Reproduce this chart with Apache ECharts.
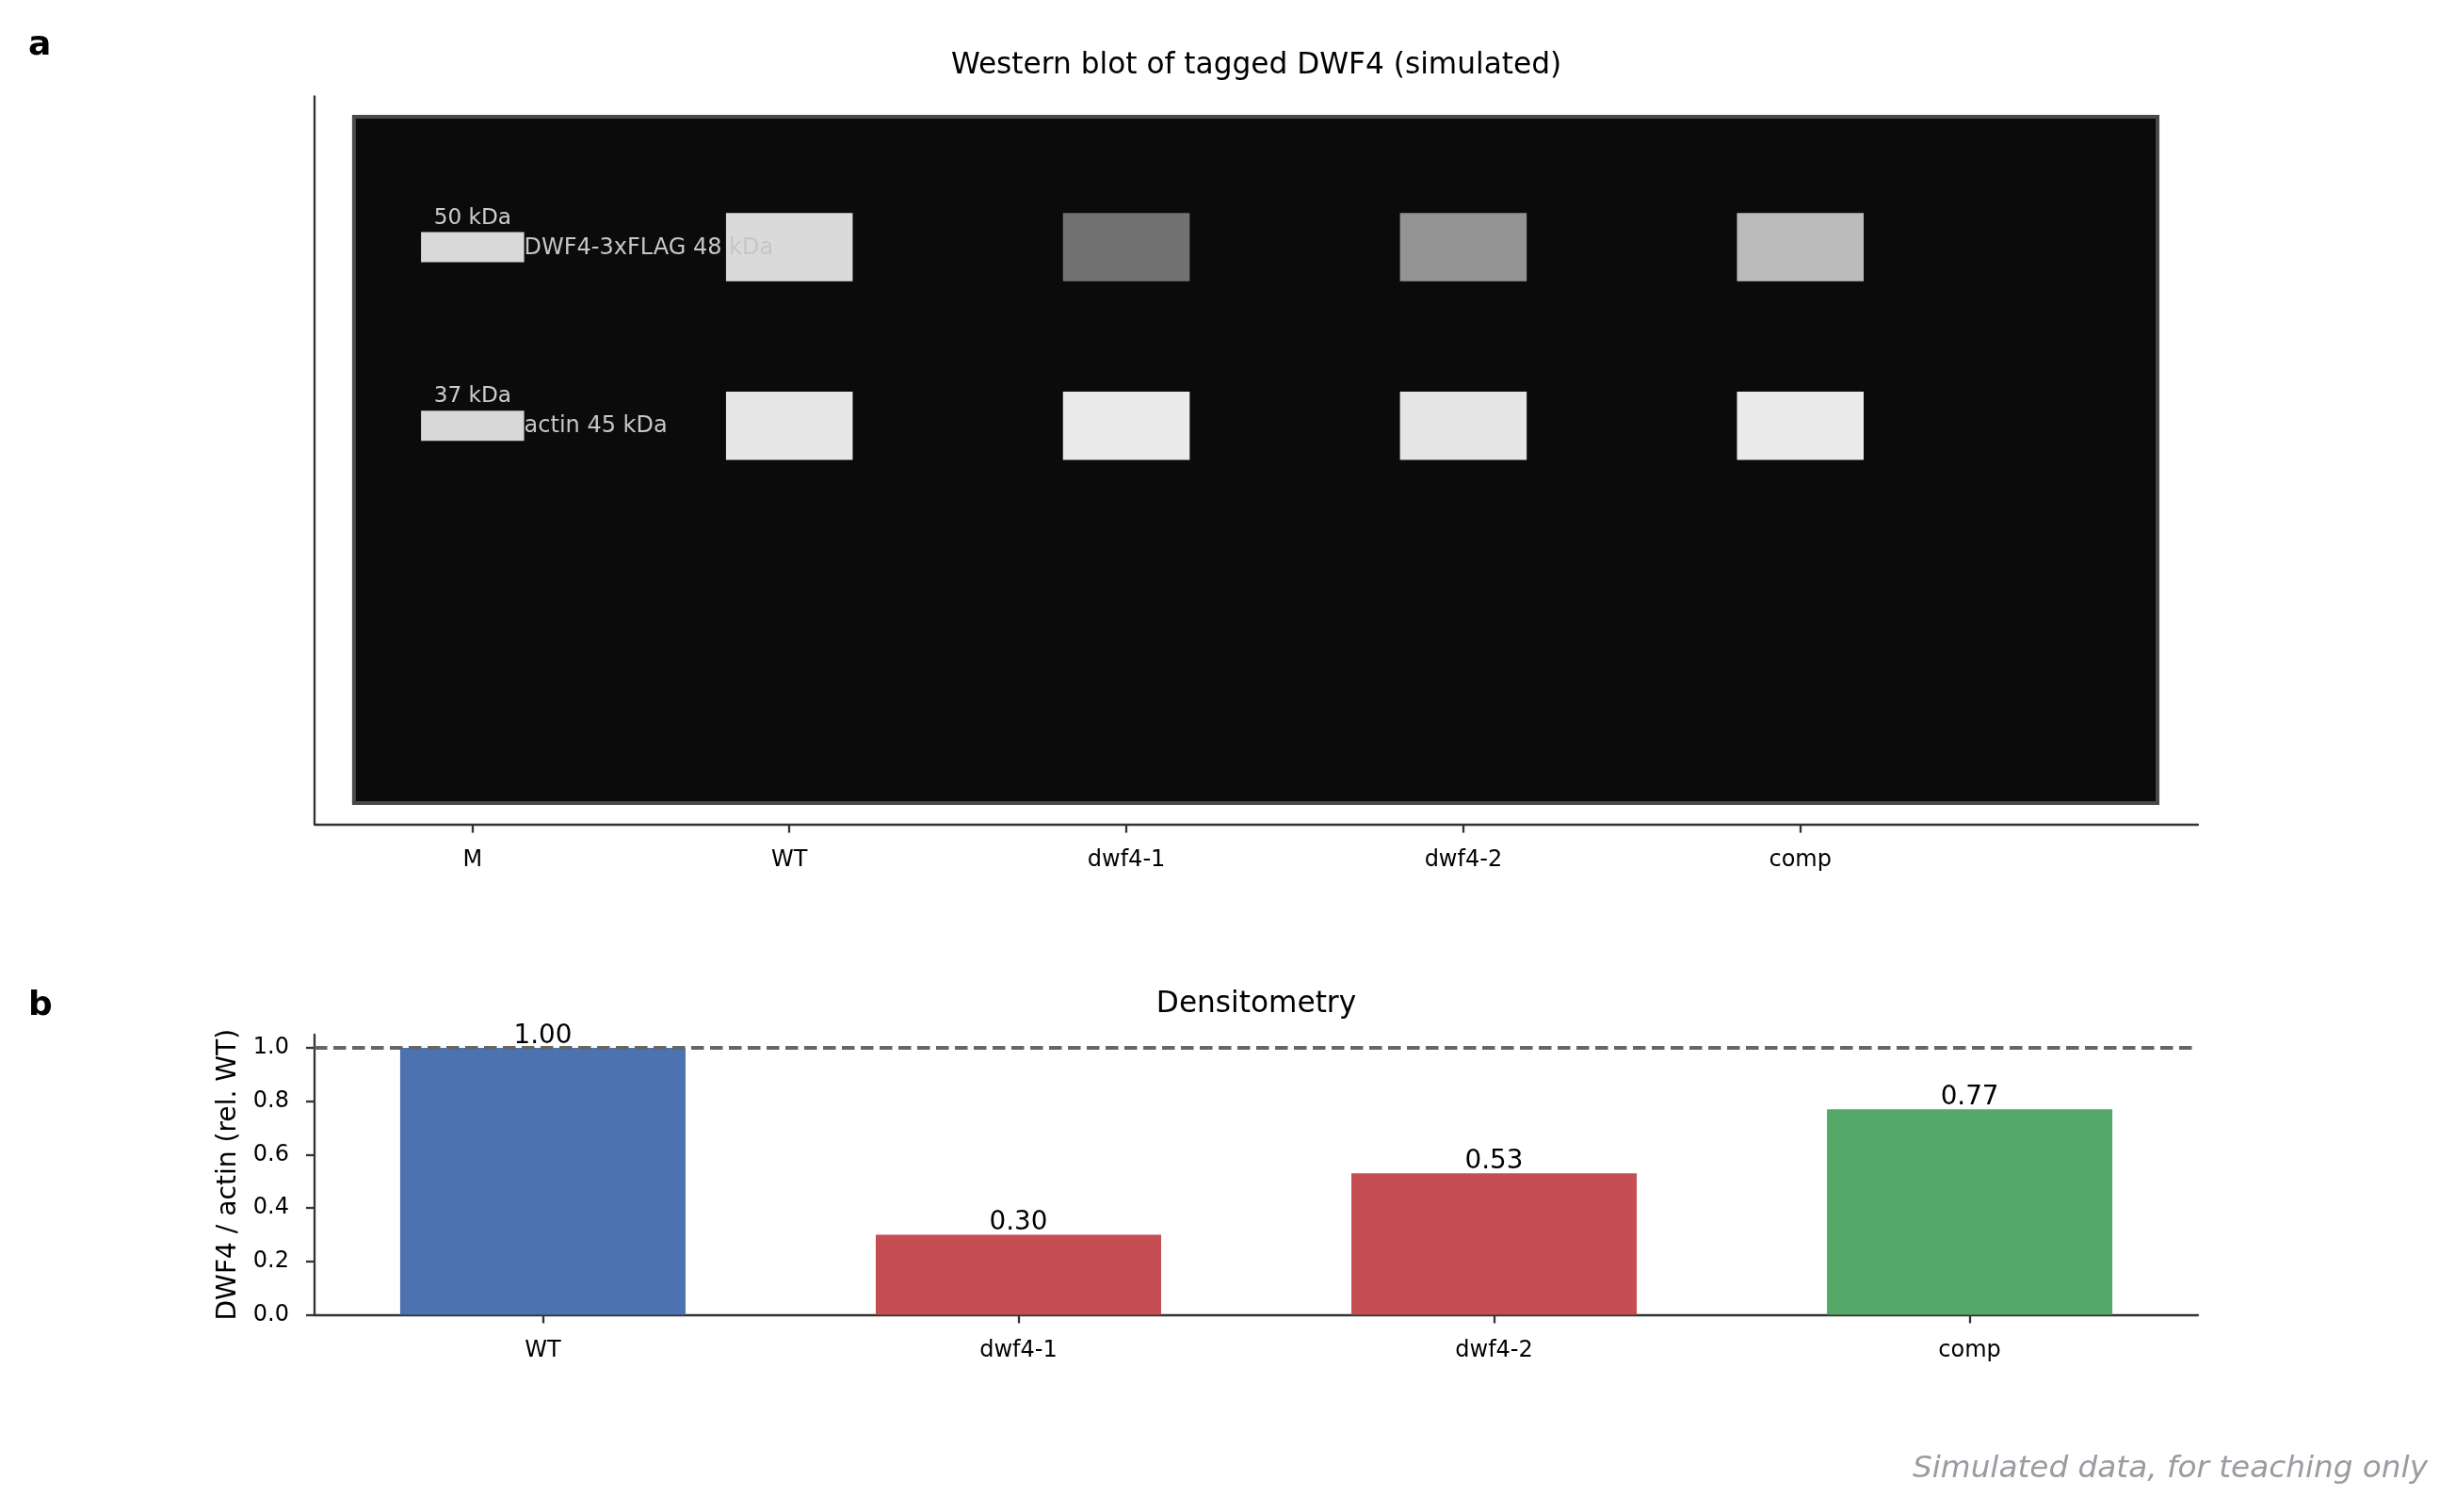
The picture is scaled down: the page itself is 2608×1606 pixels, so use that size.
<!DOCTYPE html>
<html>
<head>
<meta charset="utf-8">
<title>Western blot of tagged DWF4</title>
<script src="https://cdn.jsdelivr.net/npm/echarts@6.0.0/dist/echarts.min.js"></script>
<style>
    html, body { margin: 0; padding: 0; background: #fff; }
    #chart { width: 2608px; height: 1606px; }
</style>
</head>
<body>
<div id="chart"></div>
<script>
// gel lanes (x in lane units) and band rows (y = migration, % of panel height)
const laneNames = ['M', 'WT', 'dwf4-1', 'dwf4-2', 'comp'];
const laneX = [0.06, 1, 2, 3, 4];
const bandRows = ['DWF4-3xFLAG 48 kDa', 'actin 45 kDa'];
const bandRowY = [20.7, 45.25];
const markerLabels = ['50 kDa', '37 kDa'];
const markerGrey = [217, 215];
// band grey levels for WT, dwf4-1, dwf4-2, comp
const dwf4Grey = [218, 114, 147, 187];
const actinGrey = [230, 234, 229, 234];
const gelX = [-0.292, 5.06];
const gelY = [2.78, 97.09];

// densitometry
const densCategories = ['WT', 'dwf4-1', 'dwf4-2', 'comp'];
const densValues = [1.00, 0.30, 0.53, 0.77];
const densTicks = [0, 0.2, 0.4, 0.6, 0.8, 1.0];
const refLevel = 1.0;

const barColors = ['#4c72b0', '#c44e52', '#c44e52', '#55a868'];
const FONT = 'DejaVu Sans';
const SAMPLE_HW = 0.188, SAMPLE_HH = 4.70;
const MARKER_HW = 0.153, MARKER_HH = 2.07;
const BAR_HW = 0.3;
const DENS_X = [-0.48, 3.48];

const chart = echarts.init(document.getElementById('chart'), null, { renderer: 'canvas' });

// band items: [x, y, grey, kind]  kind 0 = sample, 1 = marker
const bandData = [];
bandRowY.forEach((y, r) => {
    bandData.push([laneX[0], y, markerGrey[r], 1]);
    const greys = r === 0 ? dwf4Grey : actinGrey;
    greys.forEach((g, i) => bandData.push([laneX[i + 1], y, g, 0]));
});

function rectFrom(p0, p1) {
    return {
        x: Math.min(p0[0], p1[0]),
        y: Math.min(p0[1], p1[1]),
        width: Math.abs(p1[0] - p0[0]),
        height: Math.abs(p1[1] - p0[1])
    };
}

const axisLineStyle = { color: '#333', width: 2.3 };

const option = {
    animation: false,
    textStyle: { fontFamily: FONT },
    grid: [
        { left: 334, top: 102.5, width: 2000, height: 773 },
        { left: 334, top: 1098.8, width: 2000, height: 297.7 }
    ],
    xAxis: [
        {
            gridIndex: 0, type: 'value', min: -0.409, max: 5.18,
            axisLine: { show: true, onZero: false, lineStyle: axisLineStyle },
            axisTick: { show: true, customValues: laneX, length: 9, lineStyle: axisLineStyle },
            axisLabel: {
                customValues: laneX, margin: 26, fontSize: 24, color: '#000', fontFamily: FONT,
                formatter: v => laneNames[laneX.indexOf(v)]
            },
            splitLine: { show: false }
        },
        {
            gridIndex: 1, type: 'value', min: DENS_X[0], max: DENS_X[1],
            axisLine: { show: true, onZero: false, lineStyle: axisLineStyle },
            axisTick: { show: true, customValues: [0, 1, 2, 3], length: 9, lineStyle: axisLineStyle },
            axisLabel: {
                customValues: [0, 1, 2, 3], margin: 26, fontSize: 24, color: '#000', fontFamily: FONT,
                formatter: v => densCategories[Math.round(v)]
            },
            splitLine: { show: false }
        }
    ],
    yAxis: [
        {
            gridIndex: 0, type: 'value', min: 0, max: 100, inverse: true,
            axisLine: { show: true, onZero: false, lineStyle: axisLineStyle },
            axisTick: { show: false },
            axisLabel: { show: false },
            splitLine: { show: false }
        },
        {
            gridIndex: 1, type: 'value', min: 0, max: 1.05,
            axisLine: { show: true, onZero: false, lineStyle: axisLineStyle },
            axisTick: { show: true, customValues: densTicks, length: 9, lineStyle: axisLineStyle },
            axisLabel: {
                customValues: densTicks, margin: 27, fontSize: 24, color: '#000', fontFamily: FONT,
                padding: [9, 0, 0, 0],
                formatter: v => v.toFixed(1)
            },
            splitLine: { show: false },
            name: 'DWF4 / actin (rel. WT)',
            nameLocation: 'middle',
            nameGap: 77,
            nameTextStyle: { fontSize: 28.1, color: '#000', fontFamily: FONT }
        }
    ],
    graphic: [
        { type: 'text', x: 30, y: 48.7, style: { text: 'a', font: 'bold 36px "DejaVu Sans"', fill: '#000', align: 'left', verticalAlign: 'middle' } },
        { type: 'text', x: 30, y: 1069, style: { text: 'b', font: 'bold 36px "DejaVu Sans"', fill: '#000', align: 'left', verticalAlign: 'middle' } },
        { type: 'text', x: 1334, y: 70, style: { text: 'Western blot of tagged DWF4 (simulated)', font: '31.2px "DejaVu Sans"', fill: '#000', align: 'center', verticalAlign: 'middle' } },
        { type: 'text', x: 1334, y: 1066.8, style: { text: 'Densitometry', font: '31.2px "DejaVu Sans"', fill: '#000', align: 'center', verticalAlign: 'middle' } },
        { type: 'text', x: 2578, y: 1561, style: { text: 'Simulated data, for teaching only', font: 'italic 32.7px "DejaVu Sans"', fill: '#9a9ca1', align: 'right', verticalAlign: 'middle' } }
    ],
    series: [
        {
            // gel background
            type: 'custom', xAxisIndex: 0, yAxisIndex: 0, z: 1,
            data: [[gelX[0], gelY[0], gelX[1], gelY[1]]],
            renderItem: (params, api) => {
                const p0 = api.coord([api.value(0), api.value(1)]);
                const p1 = api.coord([api.value(2), api.value(3)]);
                return { type: 'rect', shape: rectFrom(p0, p1), style: { fill: '#0b0b0b', stroke: '#4a4a4a', lineWidth: 4 } };
            }
        },
        {
            // bands
            type: 'custom', xAxisIndex: 0, yAxisIndex: 0, z: 2,
            data: bandData,
            renderItem: (params, api) => {
                const x = api.value(0), y = api.value(1), g = api.value(2);
                const marker = api.value(3) === 1;
                const hw = marker ? MARKER_HW : SAMPLE_HW;
                const hh = marker ? MARKER_HH : SAMPLE_HH;
                const p0 = api.coord([x - hw, y - hh]);
                const p1 = api.coord([x + hw, y + hh]);
                return { type: 'rect', shape: rectFrom(p0, p1), style: { fill: `rgb(${g},${g},${g})` } };
            }
        },
        {
            // marker size and band labels
            type: 'custom', xAxisIndex: 0, yAxisIndex: 0, z: 3,
            data: bandRowY.map(y => [laneX[0], y]),
            renderItem: (params, api) => {
                const x = api.value(0), y = api.value(1);
                const top = api.coord([x, y - MARKER_HH]);
                const right = api.coord([x + MARKER_HW, y]);
                return {
                    type: 'group',
                    children: [
                        { type: 'text', x: top[0], y: top[1] - 3.4, style: { text: markerLabels[params.dataIndex], font: '23.2px "DejaVu Sans"', fill: '#cccccc', align: 'center', verticalAlign: 'bottom' } },
                        { type: 'text', x: right[0], y: right[1] + 0.8, style: { text: bandRows[params.dataIndex], font: '24px "DejaVu Sans"', fill: '#c6c6c6', align: 'left', verticalAlign: 'middle' } }
                    ]
                };
            }
        },
        {
            // densitometry bars
            type: 'custom', xAxisIndex: 1, yAxisIndex: 1, z: 2,
            data: densValues.map((v, i) => [i, v]),
            renderItem: (params, api) => {
                const x = api.value(0), v = api.value(1);
                const p0 = api.coord([x - BAR_HW, v]);
                const p1 = api.coord([x + BAR_HW, 0]);
                const c = api.coord([x, v]);
                return {
                    type: 'group',
                    children: [
                        { type: 'rect', shape: rectFrom(p0, p1), style: { fill: barColors[params.dataIndex] } },
                        { type: 'text', x: c[0], y: c[1] + 1.5, style: { text: v.toFixed(2), font: '27.8px "DejaVu Sans"', fill: '#000', align: 'center', verticalAlign: 'bottom' } }
                    ]
                };
            }
        },
        {
            // reference line at WT level
            type: 'custom', xAxisIndex: 1, yAxisIndex: 1, z: 4,
            data: [[0, refLevel]],
            renderItem: (params, api) => {
                const p0 = api.coord([DENS_X[0], api.value(1)]);
                const p1 = api.coord([DENS_X[1], api.value(1)]);
                return {
                    type: 'line',
                    shape: { x1: p0[0], y1: p0[1], x2: p1[0], y2: p1[1] },
                    style: { stroke: '#666666', lineWidth: 4, lineDash: [13.5, 6.5] }
                };
            }
        }
    ]
};

chart.setOption(option);
</script>
</body>
</html>
